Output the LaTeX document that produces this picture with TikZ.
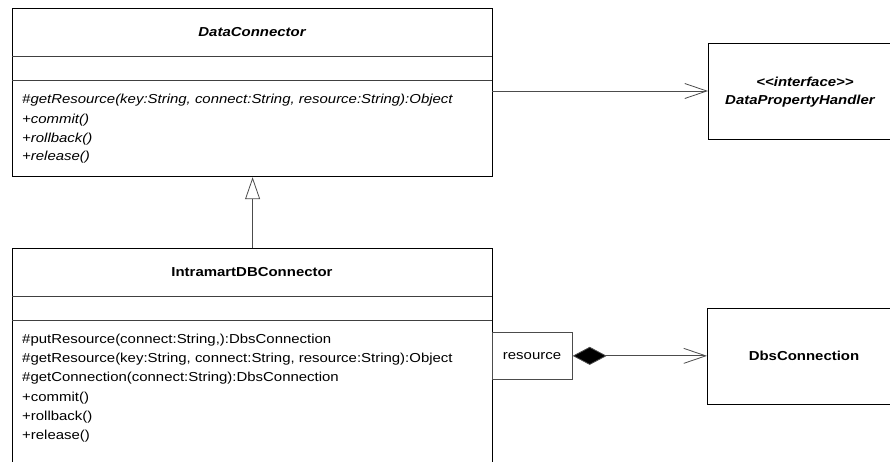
\documentclass[tikz,border=0pt]{standalone}
\usepackage{fontspec}
\setmainfont{Liberation Sans}[FakeStretch=1.15]
\usetikzlibrary{arrows.meta}
\begin{document}
\begin{tikzpicture}[x=1pt,y=-1pt,
  cls/.style={draw=black, line width=1.2pt, fill=none, inner sep=0pt, anchor=north west},
  sep/.style={draw=black!75, line width=0.9pt},
  conn/.style={draw=black!70, line width=0.8pt},
  txt/.style={inner sep=0pt, font=\fontsize{13}{15}\selectfont},
  optxt/.style={txt, anchor=west},
  ittxt/.style={optxt, font=\fontsize{13}{15}\selectfont\itshape},
  clsname/.style={txt, font=\fontsize{13}{15}\selectfont\bfseries},
  absname/.style={txt, font=\fontsize{13}{15}\selectfont\bfseries\itshape},
  qual/.style={draw=black!70, line width=0.7pt, inner sep=0pt, anchor=north west}
]
\useasboundingbox (0,0) rectangle (890,461);
\clip (0,0) rectangle (890,461);
\fill[white] (0,0) rectangle (890,461);

% DataConnector
\node[cls, minimum width=480pt, minimum height=168pt] (dc) at (12,8) {};
\draw[sep] (12,56) -- (492,56);
\draw[sep] (12,80) -- (492,80);
\node[absname] (dcn) at (252,32) {DataConnector};
\node[ittxt] (dc1) at (22,100) {\#getResource(key:String, connect:String, resource:String):Object};
\node[ittxt] (dc2) at (22,120) {+commit()};
\node[ittxt] (dc3) at (22,139) {+rollback()};
\node[ittxt] (dc4) at (22,157) {+release()};

% DataPropertyHandler
\node[cls, minimum width=200pt, minimum height=96pt] (dph) at (708,43) {};
\node[absname] (dphs) at (805,82) {{<}{<}interface{>}{>}};
\node[absname] (dphn) at (800,101) {DataPropertyHandler};

% IntramartDBConnector
\node[cls, minimum width=480pt, minimum height=240pt] (idb) at (12,248) {};
\draw[sep] (12,296) -- (492,296);
\draw[sep] (12,320) -- (492,320);
\node[clsname] (idbn) at (252,272) {IntramartDBConnector};
\node[optxt] (o1) at (22,340) {\#putResource(connect:String,):DbsConnection};
\node[optxt] (o2) at (22,359) {\#getResource(key:String, connect:String, resource:String):Object};
\node[optxt] (o3) at (22,378) {\#getConnection(connect:String):DbsConnection};
\node[optxt] (o4) at (22,398) {+commit()};
\node[optxt] (o5) at (22,417) {+rollback()};
\node[optxt] (o6) at (22,436) {+release()};

% qualifier
\node[qual, minimum width=80pt, minimum height=47pt] (q) at (492,332) {};
\node[txt] (qt) at (532,356) {resource};

% DbsConnection
\node[cls, minimum width=200pt, minimum height=96pt] (dbs) at (707,308) {};
\node[clsname] (dbsn) at (804,356) {DbsConnection};

% connectors
\coordinate (dcr) at (492,91);
\draw[conn, -{Straight Barb[length=22pt,width=15pt,line width=0.8pt]}] (dcr) -- (dcr -| dph.west);
\draw[conn, -{Triangle[open,length=22pt,width=15pt,fill=white,line width=0.8pt]}] (idb.north) -- (dc.south);
\draw[conn, {Diamond[length=34pt,width=18pt,fill=black]}-{Straight Barb[length=22pt,width=15pt,line width=0.8pt]}] (q.east) -- (q.east -| dbs.west);
\end{tikzpicture}
\end{document}
